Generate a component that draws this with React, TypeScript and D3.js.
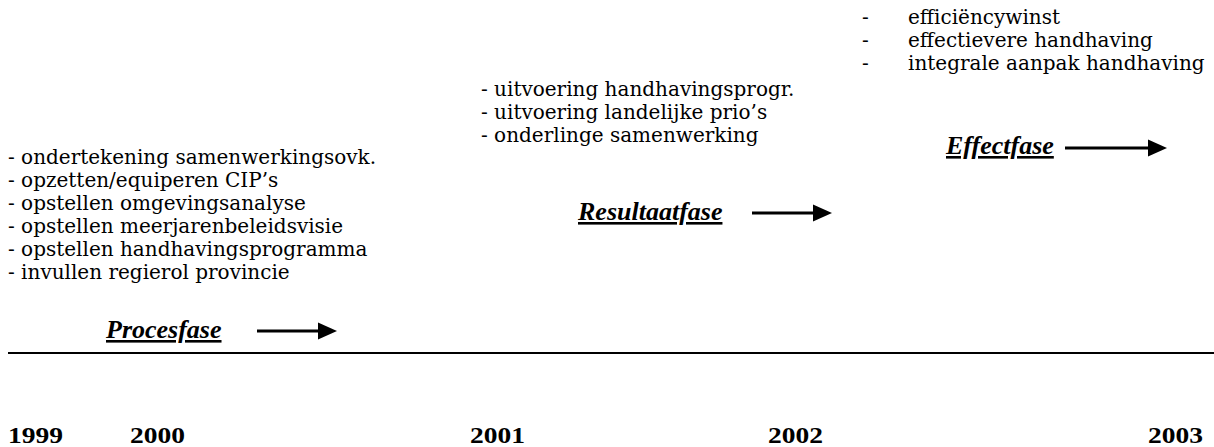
import React from "react";
import * as d3 from "d3";

// phase contents
const procesItems = [
  "- ondertekening samenwerkingsovk.",
  "- opzetten/equiperen CIP’s",
  "- opstellen omgevingsanalyse",
  "- opstellen meerjarenbeleidsvisie",
  "- opstellen handhavingsprogramma",
  "- invullen regierol provincie",
];
const resultaatItems = [
  "- uitvoering handhavingsprogr.",
  "- uitvoering landelijke prio’s",
  "- onderlinge samenwerking",
];
const effectItems = ["efficiëncywinst", "effectievere handhaving", "integrale aanpak handhaving"];
const phaseNames = ["Procesfase", "Resultaatfase", "Effectfase"];
const years = ["1999", "2000", "2001", "2002", "2003"];

const W = 1214;
const H = 447;
const bodyFont = "DejaVu Serif, Liberation Serif, serif";
const headFont = "Liberation Serif, Times New Roman, serif";

// layout (px)
const yearX = [8, 130, 470, 768, 1148];
const lineY = 353;
const lineStep = 23;

const blocks = [
  { items: procesItems, x: 8, y0: 164, dash: false },
  { items: resultaatItems, x: 481, y0: 96, dash: false },
  { items: effectItems, x: 862, y0: 24, dash: true },
];

const labels = [
  { x: 106, y: 338, arrowFrom: 257, arrowTo: 337, ay: 331 },
  { x: 578, y: 220, arrowFrom: 752, arrowTo: 832, ay: 213 },
  { x: 946, y: 154, arrowFrom: 1065, arrowTo: 1167, ay: 148 },
];

const Arrow = ({ x1, x2, y }: { x1: number; x2: number; y: number }) => {
  const head = 19;
  const pts: [number, number][] = [
    [x2 - head, y - 8.5],
    [x2, y],
    [x2 - head, y + 8.5],
  ];
  return (
    <g>
      <line x1={x1} x2={x2 - head + 1} y1={y} y2={y} stroke="#000" strokeWidth={3} />
      <path d={d3.line()(pts)! + "Z"} fill="#000" />
    </g>
  );
};

export default function App() {
  const rowY = (i: number, y0: number) => y0 + i * lineStep;
  return (
    <svg
      width={W}
      height={H}
      viewBox={`0 0 ${W} ${H}`}
      style={{ position: "absolute", left: 0, top: 0, background: "#fff" }}
    >
      <rect width={W} height={H} fill="#fff" />
      {blocks.map((b, bi) => (
        <g key={bi} fontFamily={bodyFont} fontSize={20} fill="#000">
          {b.items.map((t, i) =>
            b.dash ? (
              <g key={i}>
                <text x={b.x} y={rowY(i, b.y0)}>-</text>
                <text x={b.x + 46} y={rowY(i, b.y0)}>{t}</text>
              </g>
            ) : (
              <text key={i} x={b.x} y={rowY(i, b.y0)}>
                {t}
              </text>
            )
          )}
        </g>
      ))}
      {labels.map((l, i) => (
        <g key={i}>
          <text
            x={l.x}
            y={l.y}
            fontFamily={headFont}
            fontSize={26}
            fontWeight="bold"
            fontStyle="italic"
            textDecoration="underline"
          >
            {phaseNames[i]}
          </text>
          <Arrow x1={l.arrowFrom} x2={l.arrowTo} y={l.ay} />
        </g>
      ))}
      <line x1={8} x2={W} y1={lineY} y2={lineY} stroke="#000" strokeWidth={2} />
      {years.map((yr, i) => (
        <text
          key={yr}
          x={yearX[i]}
          y={443}
          fontFamily={headFont}
          fontSize={23}
          fontWeight="bold"
          textLength={55}
          lengthAdjust="spacingAndGlyphs"
        >
          {yr}
        </text>
      ))}
    </svg>
  );
}
